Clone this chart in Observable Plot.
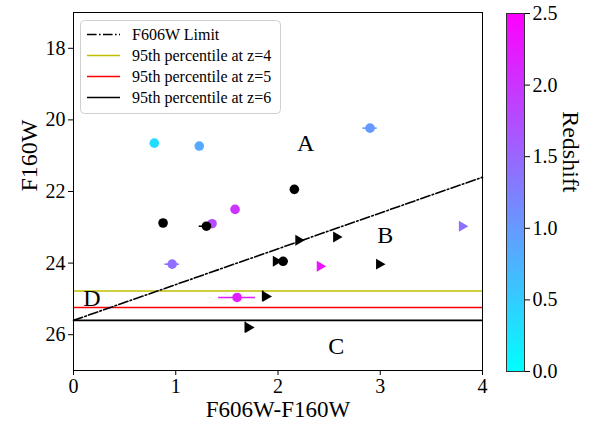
<!DOCTYPE html>
<html>
<head>
<meta charset="utf-8">
<script src="https://cdn.jsdelivr.net/npm/d3@7"></script>
<script src="https://cdn.jsdelivr.net/npm/@observablehq/plot@0.6"></script>
<style>
  body { margin: 0; background: white; }
  #wrap { position: relative; width: 591px; height: 426px; }
  #wrap > svg { position: absolute; margin: 0; }
</style>
</head>
<body>
<div id="wrap"></div>
<script>
// ---- data ----
const circleX   = [0.79, 1.23, 2.90, 2.16, 1.58, 0.876, 1.355, 1.30, 0.965, 2.05, 1.60];
const circleY   = [20.65, 20.73, 20.23, 21.94, 22.5, 22.88, 22.9, 22.97, 24.03, 23.95, 24.96];
const circleZ   = [0.33, 0.83, 1.0, null, 2.0, null, 1.75, null, 1.4, null, 2.2];
const circleXerr= [0, 0, 0.07, 0, 0, 0, 0, 0.07, 0.07, 0.05, 0.18];

const triX    = [1.88, 1.71, 2.20, 2.57, 3.80, 2.41, 2.99, 1.98];
const triY    = [24.93, 25.8, 23.36, 23.27, 22.97, 24.09, 24.03, 23.95];
const triZ    = [null, null, null, null, 1.4, 2.3, null, null];
const triYerr = [0.15, 0.15, 0, 0, 0, 0, 0, 0];

const limitX = [0, 4];
const limitY = [25.6, 21.6];

const pctLabels = ["95th percentile at z=4", "95th percentile at z=5", "95th percentile at z=6"];
const pctValues = [24.78, 25.24, 25.6];
const pctColors = ["#bfbf00", "#ff0000", "#000000"];

const regionLabels = ["A", "B", "C", "D"];
const regionX = [2.27, 3.05, 2.57, 0.18];
const regionY = [20.65, 23.22, 26.33, 24.98];

const xTicks = [0, 1, 2, 3, 4];
const yTicks = [18, 20, 22, 24, 26];
const zTicks = [0, 0.5, 1.0, 1.5, 2.0, 2.5];
const zDomain = [0, 2.5];

// ---- helpers ----
const cool = t => `rgb(${Math.round(255*t)},${Math.round(255*(1-t))},255)`;
const colorOf = z => z == null ? "black" : cool(Math.max(0, Math.min(1, (z - zDomain[0]) / (zDomain[1] - zDomain[0]))));

const circles = circleX.map((x, i) => ({x, y: circleY[i], z: circleZ[i], xerr: circleXerr[i], c: colorOf(circleZ[i])}));
const tris = triX.map((x, i) => ({x, y: triY[i], z: triZ[i], yerr: triYerr[i], c: colorOf(triZ[i])}));
const limit = limitX.map((x, i) => ({x, y: limitY[i]}));
const pct = pctValues.map((v, i) => ({v, c: pctColors[i], label: pctLabels[i]}));
const regions = regionLabels.map((t, i) => ({t, x: regionX[i], y: regionY[i]}));

const font = "Liberation Serif";
const dashDot = "9.6,2.4,1.6,2.4";

const main = Plot.plot({
  width: 591, height: 426,
  marginLeft: 73, marginRight: 109, marginTop: 12, marginBottom: 56,
  style: {fontFamily: font, fontSize: "20px", background: "transparent", color: "black"},
  x: {domain: [0, 4]},
  y: {domain: [17, 27], reverse: true},
  marks: [
    Plot.ruleY(pct, {y: "v", stroke: "c", strokeWidth: 1.6}),
    Plot.line(limit, {x: "x", y: "y", stroke: "black", strokeWidth: 1.6, strokeDasharray: dashDot}),
    Plot.ruleY(circles.filter(d => d.xerr > 0), {y: "y", x1: d => d.x - d.xerr, x2: d => d.x + d.xerr, stroke: "c", strokeWidth: 1.6}),
    Plot.ruleX(tris.filter(d => d.yerr > 0), {x: d => d.x - 0.03, y1: d => d.y - d.yerr, y2: d => d.y + d.yerr, stroke: "c", strokeWidth: 1.6}),
    Plot.dot(circles.filter(d => d.z != null), {x: "x", y: "y", fill: "c", r: 4.8}),
    Plot.dot(circles.filter(d => d.z == null), {x: "x", y: "y", fill: "c", r: 4.8}),
    Plot.dot(tris, {x: "x", y: "y", fill: "c", symbol: "triangle2", rotate: 90, r: 5.2}),
    Plot.text(regions, {x: "x", y: "y", text: "t", fontSize: 24, fill: "black"}),
    Plot.frame({stroke: "black", strokeWidth: 1}),
    Plot.axisX({ticks: xTicks, tickSize: 5, tickPadding: 3, label: null, tickFormat: d => String(d)}),
    Plot.axisY({ticks: yTicks, tickSize: 5, tickPadding: 3, label: null, tickFormat: d => String(d)}),
    Plot.text(["F606W-F160W"], {frameAnchor: "bottom", dy: 46, fontSize: 23, fill: "black"}),
    Plot.text(["F160W"], {frameAnchor: "left", dx: -44, rotate: -90, fontSize: 24, fill: "black"})
  ]
});
main.style.left = "0px"; main.style.top = "0px";

const steps = d3.range(0, 250).map(i => ({y1: i / 100, y2: (i + 1) / 100}));
const bar = Plot.plot({
  width: 111, height: 426,
  marginLeft: 26, marginRight: 67, marginTop: 13, marginBottom: 55,
  style: {fontFamily: font, fontSize: "20px", background: "transparent", color: "black"},
  x: {domain: [0, 1], axis: null},
  y: {domain: zDomain},
  color: {type: "linear", domain: zDomain, interpolate: cool},
  marks: [
    Plot.rect(steps, {x1: 0, x2: 1, y1: "y1", y2: "y2", fill: d => (d.y1 + d.y2) / 2, inset: 0, shapeRendering: "crispEdges"}),
    Plot.frame({stroke: "#333", strokeWidth: 1}),
    Plot.axisY({anchor: "right", ticks: zTicks, tickSize: 5, tickPadding: 3, tickFormat: d3.format(".1f"), label: null}),
    Plot.text(["Redshift"], {frameAnchor: "right", dx: 46, rotate: 90, fontSize: 24, fill: "black"})
  ]
});
bar.style.left = "480px"; bar.style.top = "0px";

const wrap = document.getElementById("wrap");
wrap.appendChild(main);
wrap.appendChild(bar);

// legend (SVG overlay)
const entries = [{label: "F606W Limit", c: "black", dash: dashDot}].concat(pct.map(p => ({label: p.label, c: p.c, dash: null})));
const lg = d3.create("svg").attr("width", 202).attr("height", 95)
  .style("position", "absolute").style("left", "80px").style("top", "20px");
lg.append("rect").attr("x", 0.5).attr("y", 0.5).attr("width", 200).attr("height", 93).attr("rx", 4)
  .attr("fill", "white").attr("fill-opacity", 0.85).attr("stroke", "#d0d0d0");
entries.forEach((e, i) => {
  const cy = 14.5 + i * 21;
  lg.append("line").attr("x1", 7).attr("x2", 40).attr("y1", cy).attr("y2", cy)
    .attr("stroke", e.c).attr("stroke-width", 1.6).attr("stroke-dasharray", e.dash);
  lg.append("text").attr("x", 52).attr("y", cy).attr("dy", "0.35em")
    .attr("font-family", font).attr("font-size", 16).attr("fill", "black").text(e.label);
});
wrap.appendChild(lg.node());
</script>
</body>
</html>
